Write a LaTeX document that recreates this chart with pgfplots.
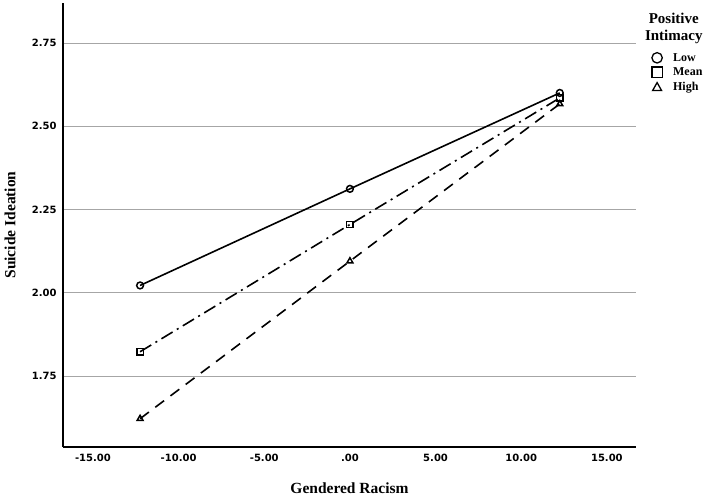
\documentclass[border=0pt]{standalone}
\usepackage{fontspec}
\setmainfont{Liberation Serif}
\newfontfamily\tickfont{DejaVu Sans}
\usepackage{pgfplots}
\pgfplotsset{compat=1.18}
\begin{document}
\begin{tikzpicture}
\begin{axis}[
  name=ax,
  scale only axis,
  width=573pt, height=444pt,
  xmin=-16.75, xmax=16.7,
  ymin=1.537, ymax=2.87,
  axis x line*=bottom, axis y line*=left,
  axis line style={line width=1.5pt, -},
  xtick={-15,-10,-5,0,5,10,15},
  xticklabels={-15.00,-10.00,-5.00,.00,5.00,10.00,15.00},
  ytick={1.75,2,2.25,2.5,2.75},
  yticklabels={1.75,2.00,2.25,2.50,2.75},
  major tick length=0pt,
  ymajorgrids,
  grid style={gray!70, line width=0.8pt},
  tick label style={font=\tickfont\bfseries\fontsize{10}{12}\selectfont},
  xticklabel style={yshift=-4pt},
  yticklabel style={xshift=-3pt},
  xlabel={\textbf{Gendered Racism}},
  ylabel={\textbf{Suicide Ideation}},
  xlabel style={font=\fontsize{15.5}{18}\selectfont, at={(rel axis cs:0.5,-0.0923)}, anchor=center},
  ylabel style={font=\fontsize{15.5}{18}\selectfont, at={(rel axis cs:-0.0925,0.5)}, anchor=center},
  clip=false,
  legend style={at={(rel axis cs:1.026,0.892)}, anchor=north west, draw=none, fill=none,
    font=\bfseries\fontsize{12}{13}\selectfont, inner sep=0pt, row sep=1pt,
    cells={anchor=west}},
  legend cell align=left,
]
\addplot[black, line width=1.6pt, mark=o, mark size=3.4pt, mark options={solid, line width=1.5pt}, forget plot]
  coordinates {(-12.25,2.022) (0,2.312) (12.25,2.600)};
\addplot[black, line width=1.6pt, dash pattern=on 13pt off 5pt on 2pt off 5pt, mark=square, mark size=3.2pt, mark options={solid, line width=1.5pt}, forget plot]
  coordinates {(-12.25,1.823) (0,2.205) (12.25,2.585)};
\addplot[black, line width=1.6pt, dash pattern=on 11pt off 8pt, mark=triangle, mark size=3.4pt, mark options={solid, line width=1.5pt}, forget plot]
  coordinates {(-12.25,1.622) (0,2.095) (12.25,2.567)};
\addlegendimage{legend image code/.code={\draw[black, line width=1.3pt] (6pt,0) circle (5.2pt); \path[draw=none, fill=none] (0,-6pt) rectangle (20pt,6pt);}}
\addlegendentry{Low}
\addlegendimage{legend image code/.code={\draw[black, line width=1.3pt] (0.8pt,-5.2pt) rectangle (11.2pt,5.2pt); \path[draw=none, fill=none] (0,-6pt) rectangle (20pt,6pt);}}
\addlegendentry{Mean}
\addlegendimage{legend image code/.code={\draw[black, line width=1.3pt] (1.5pt,-3.8pt) -- (10.5pt,-3.8pt) -- (6pt,4.2pt) -- cycle; \path[draw=none, fill=none] (0,-6pt) rectangle (20pt,6pt);}}
\addlegendentry{High}
\node[font=\bfseries\fontsize{15}{17}\selectfont, align=center, anchor=center] at (rel axis cs:1.066,0.942) {Positive\\Intimacy};
\end{axis}
\pgfresetboundingbox
\path[use as bounding box] (ax.south west) ++(-63pt,-51pt) rectangle ++(709pt,498pt);
\end{tikzpicture}
\end{document}
